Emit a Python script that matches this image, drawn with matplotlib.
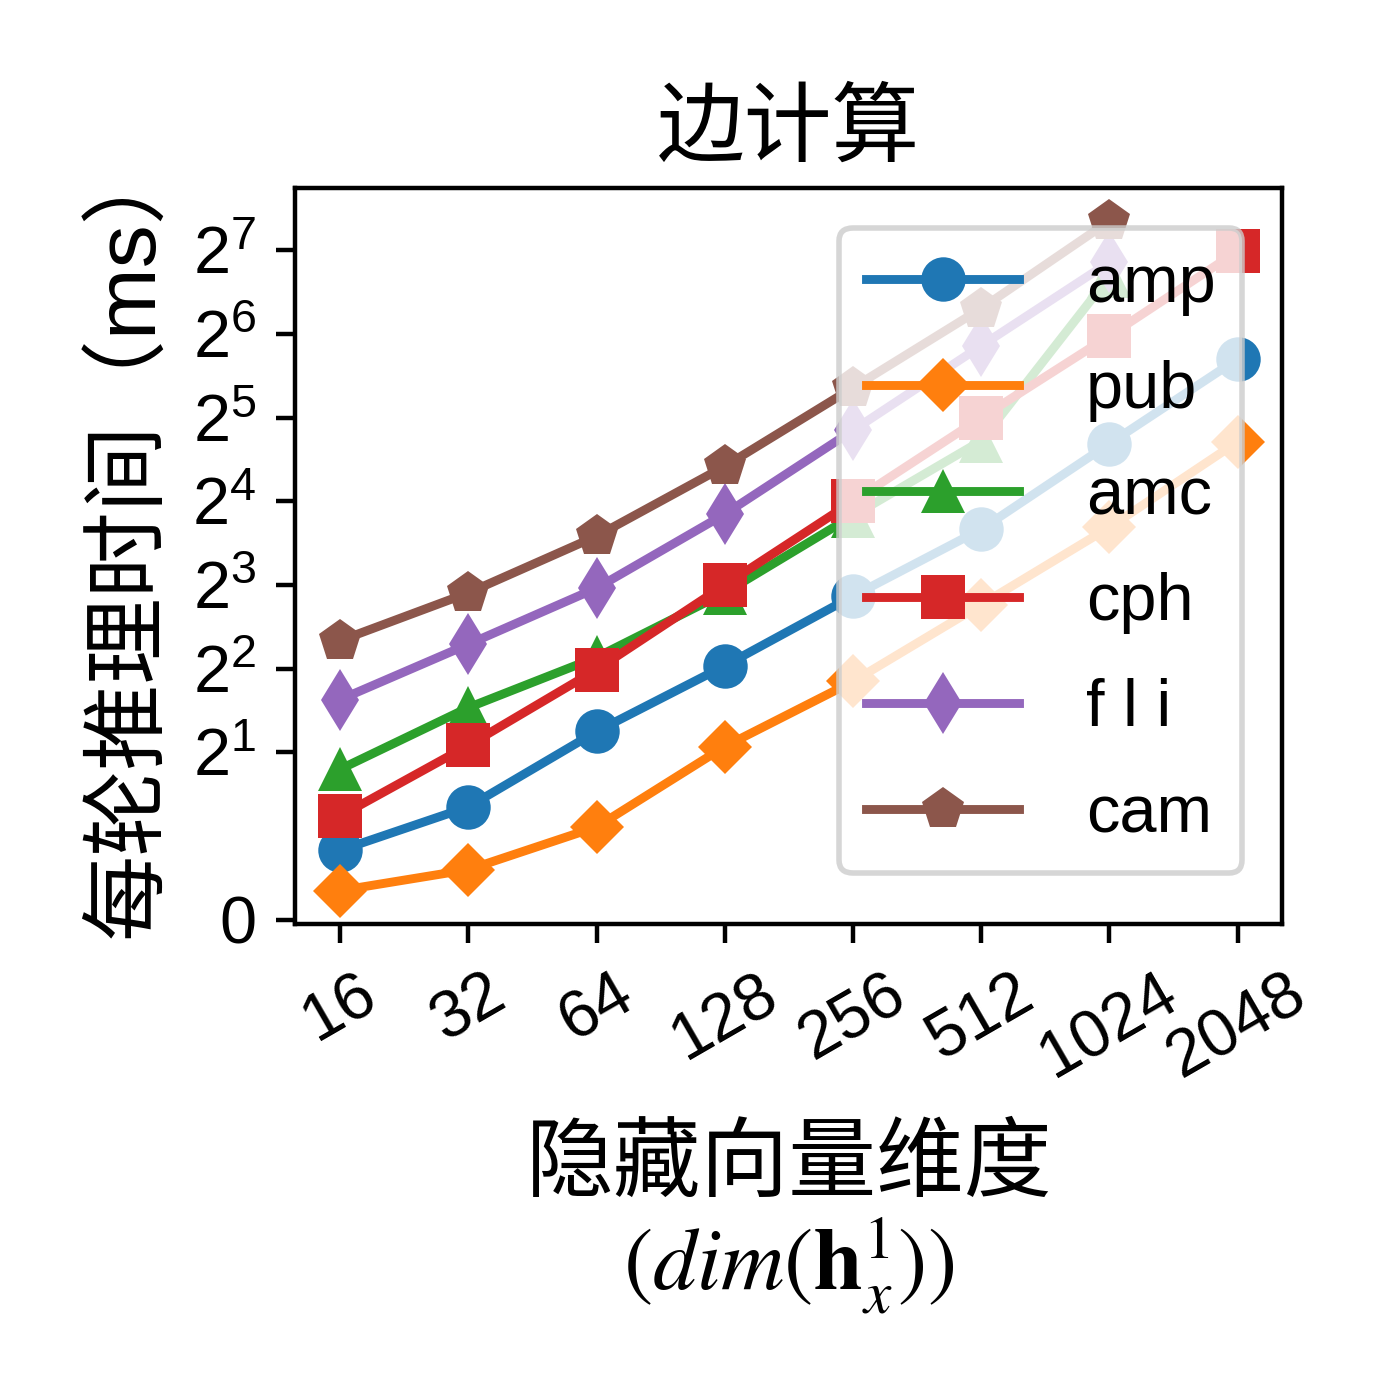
import matplotlib.pyplot as plt
import numpy as np

plt.rcParams['font.family'] = ['Liberation Sans', 'Noto Sans CJK SC']
plt.rcParams['mathtext.fontset'] = 'stix'
plt.rcParams['axes.unicode_minus'] = False

# hidden vector dimensions (x axis)
dims = ['16', '32', '64', '128', '256', '512', '1024', '2048']

# time per inference round (ms)
amp = [0.83, 1.35, 2.38, 4.1, 7.3, 12.7, 25.8, 52]
pub = [0.35, 0.60, 1.11, 2.10, 3.6, 6.8, 12.9, 26.2]
amc = [1.8, 2.9, 4.4, 7.5, 14.2, 26.4, 103]
cph = [1.24, 2.12, 3.97, 8.0, 16, 32, 63, 127]
fli = [3.1, 4.9, 7.8, 14.4, 28.8, 58, 116]
cam = [5.05, 7.5, 12, 21.4, 41, 79, 163]

labels = ['amp', 'pub', 'amc', 'cph', 'f l i', 'cam']
markers = ['o', 'D', '^', 's', 'd', 'p']
series = [amp, pub, amc, cph, fli, cam]

fig, ax = plt.subplots(figsize=(3.5, 3.5), dpi=400)
fig.subplots_adjust(left=0.211, right=0.916, top=0.866, bottom=0.34)

for vals, lab, mk in zip(series, labels, markers):
    x = np.arange(len(vals))
    ms = 8
    if mk == 'D':
        ms = 7
    ax.plot(x, vals, marker=mk, label=lab, lw=1.6, ms=ms, mew=0)

ax.set_yscale('symlog', base=2, linthresh=2, linscale=1)
yticks = [0] + [2 ** k for k in range(1, 8)]
ax.set_yticks(yticks)
ax.set_yticklabels(['0'] + [r'$\mathdefault{2^{%d}}$' % k for k in range(1, 8)])
ax.minorticks_off()

ax.set_xticks(np.arange(len(dims)))
ax.set_xticklabels(dims, rotation=30)
ax.tick_params(labelsize=12)

ax.set_title('边计算', fontsize=15.8)
ax.set_ylabel('每轮推理时间（ms）', fontsize=15.5)
ax.yaxis.label.set_y(0.527)
ax.set_xlabel('隐藏向量维度\n$(dim(\\mathbf{h}_x^1))$', fontsize=15.8,
              labelpad=6.5, linespacing=1.08)

leg = ax.legend(loc='upper right', fontsize=12, handlelength=2.3,
                handletextpad=1.0, labelspacing=0.66, borderpad=0.4,
                borderaxespad=0.6)
leg.get_frame().set_linewidth(1.0)

fig.savefig('out.png', dpi=400)
